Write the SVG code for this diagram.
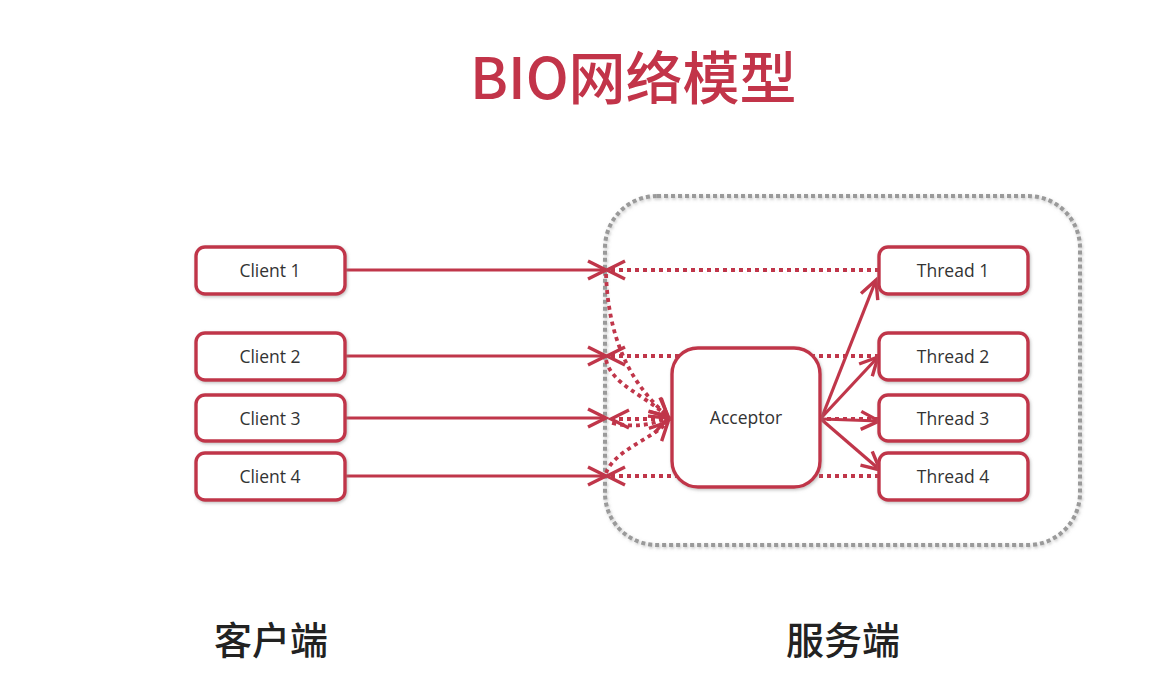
<svg xmlns="http://www.w3.org/2000/svg" width="1149" height="685" viewBox="0 0 1149 685">
<style>
.box{fill:#fff;stroke:#C0364A;stroke-width:3.4;filter:url(#sh)}
.lbl{font-family:"Open Sans","Liberation Sans",sans-serif;font-size:17.5px;fill:#333;text-anchor:middle;dominant-baseline:central}
.solid{fill:none;stroke:#C0364A;stroke-width:3.2;marker-end:url(#ah)}
.dot{fill:none;stroke:#C0364A;stroke-width:3.8;stroke-dasharray:4 4;marker-end:url(#ah)}
.cjk{font-family:"Noto Sans CJK SC","Noto Sans",sans-serif}
</style>
<defs>
<filter id="sh" x="-20%" y="-20%" width="140%" height="140%">
<feDropShadow dx="1" dy="1.5" stdDeviation="1.5" flood-color="#888" flood-opacity="0.5"/>
</filter>
<marker id="ah" markerUnits="userSpaceOnUse" markerWidth="26" markerHeight="24" refX="20" refY="10" orient="auto" viewBox="-2 -2 26 24">
<path d="M2,1 L20,10 L2,19" fill="none" stroke="#C0364A" stroke-width="3.4" stroke-linejoin="miter"/>
</marker>
</defs>
<rect width="1149" height="685" fill="#fff"/>
<text x="470" y="99" class="cjk" font-size="57" font-weight="500" fill="#C23449">BIO网络模型</text>
<rect id="server" x="605" y="196" width="475" height="349" rx="52" fill="none" stroke="#9a9a9a" stroke-width="4" stroke-dasharray="4 3" filter="url(#sh)"/>
<g id="connectors">
<line class="solid" x1="345" y1="270" x2="606" y2="270"/>
<line class="solid" x1="345" y1="356" x2="606" y2="356"/>
<line class="solid" x1="345" y1="418" x2="606" y2="418"/>
<line class="solid" x1="345" y1="476" x2="606" y2="476"/>
<line class="dot" x1="879" y1="270" x2="607" y2="270"/>
<line class="dot" x1="879" y1="356" x2="607" y2="356"/>
<line class="dot" x1="879" y1="419" x2="611" y2="419"/>
<line class="dot" x1="879" y1="476" x2="607" y2="476"/>
<path class="dot" d="M606,274 C608,330 625,380 668,416"/>
<path class="dot" d="M606,360 C612,385 645,395 668,417"/>
<path class="dot" d="M612,423 C635,428 650,425 668,418"/>
<path class="dot" d="M606,473 C615,450 650,440 668,422"/>
<line class="solid" x1="822" y1="417" x2="876" y2="280"/>
<line class="solid" x1="822" y1="417" x2="878" y2="357"/>
<line class="solid" x1="822" y1="419" x2="879" y2="421"/>
<line class="solid" x1="822" y1="420" x2="880" y2="470"/>
</g>
<g id="acceptor"><rect class="box" x="672" y="348" width="148" height="139" rx="26"/><text class="lbl" x="746" y="417">Acceptor</text></g>
<g id="client1"><rect class="box" x="196" y="247" width="149" height="47" rx="9"/><text class="lbl" x="270" y="270">Client 1</text></g>
<g id="client2"><rect class="box" x="196" y="333" width="149" height="47" rx="9"/><text class="lbl" x="270" y="356">Client 2</text></g>
<g id="client3"><rect class="box" x="196" y="395" width="149" height="46" rx="9"/><text class="lbl" x="270" y="418">Client 3</text></g>
<g id="client4"><rect class="box" x="196" y="453" width="149" height="47" rx="9"/><text class="lbl" x="270" y="476">Client 4</text></g>
<g id="thread1"><rect class="box" x="879" y="247" width="149" height="47" rx="9"/><text class="lbl" x="953" y="270">Thread 1</text></g>
<g id="thread2"><rect class="box" x="879" y="333" width="149" height="47" rx="9"/><text class="lbl" x="953" y="356">Thread 2</text></g>
<g id="thread3"><rect class="box" x="879" y="395" width="149" height="46" rx="9"/><text class="lbl" x="953" y="418">Thread 3</text></g>
<g id="thread4"><rect class="box" x="879" y="453" width="149" height="47" rx="9"/><text class="lbl" x="953" y="476">Thread 4</text></g>
<text x="271" y="654" class="cjk" font-size="38" font-weight="500" fill="#222" text-anchor="middle">客户端</text>
<text x="843" y="654" class="cjk" font-size="38" font-weight="500" fill="#222" text-anchor="middle">服务端</text>
</svg>
